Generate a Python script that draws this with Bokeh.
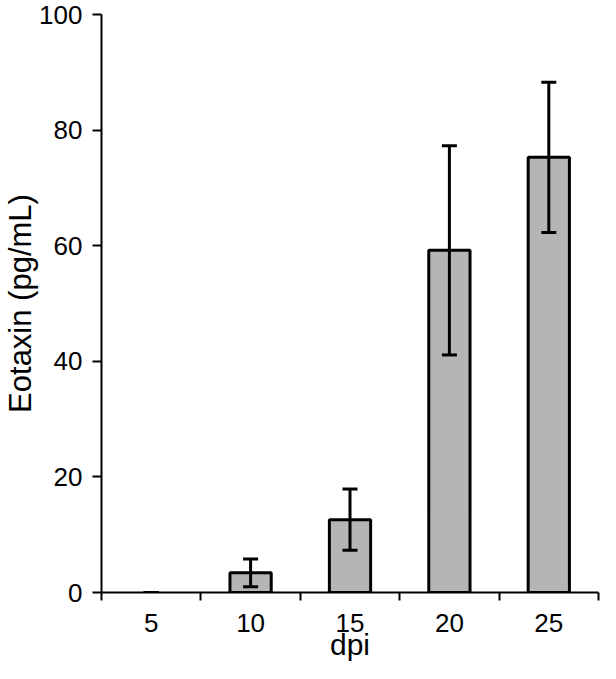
from bokeh.plotting import figure
from bokeh.models import ColumnDataSource, Whisker, FixedTicker, Range1d, TeeHead
from bokeh.embed import file_html
from bokeh.resources import INLINE

# ---- data ----
dpi = [5, 10, 15, 20, 25]
tick_labels = ["5", "10", "15", "20", "25"]
eotaxin_mean = [0.0, 3.4, 12.6, 59.2, 75.3]
eotaxin_sd = [0.0, 2.4, 5.3, 18.1, 13.0]
y_ticks = [0, 20, 40, 60, 80, 100]
x_title = "dpi"
y_title = "Eotaxin (pg/mL)"

upper = [m + s for m, s in zip(eotaxin_mean, eotaxin_sd)]
lower = [m - s for m, s in zip(eotaxin_mean, eotaxin_sd)]
bar_line_alpha = [1.0 if m > 0 else 0.0 for m in eotaxin_mean]
step = dpi[1] - dpi[0]
boundaries = [d - step / 2 for d in dpi] + [dpi[-1] + step / 2]

src = ColumnDataSource(dict(x=dpi, top=eotaxin_mean, upper=upper, lower=lower,
                            la=bar_line_alpha))

FONT = "Liberation Sans"

p = figure(width=600, height=663,
           x_range=Range1d(boundaries[0], boundaries[-1]),
           y_range=Range1d(y_ticks[0], y_ticks[-1]),
           output_backend="svg", toolbar_location=None,
           min_border_left=10, min_border_right=2,
           min_border_top=14, min_border_bottom=10)

p.vbar(x="x", top="top", bottom=0, width=step * 0.415, source=src,
       fill_color="#b5b5b5", line_color="black", line_width=3, line_alpha="la")

w = Whisker(base="x", upper="upper", lower="lower", source=src,
            line_color="black", line_width=3, level="overlay",
            upper_head=TeeHead(size=15, line_width=3, line_color="black"),
            lower_head=TeeHead(size=15, line_width=3, line_color="black"))
p.add_layout(w)

p.grid.visible = False
p.outline_line_color = None
p.background_fill_color = "white"

# x axis
xa = p.xaxis[0]
xa.ticker = FixedTicker(ticks=dpi, minor_ticks=boundaries)
xa.major_label_overrides = {d: t for d, t in zip(dpi, tick_labels)}
xa.major_tick_out = 0
xa.major_tick_in = 0
xa.minor_tick_out = 8
xa.minor_tick_in = 0
xa.minor_tick_line_width = 2
xa.minor_tick_line_color = "black"
xa.axis_line_width = 2
xa.axis_line_color = "black"
xa.major_label_standoff = 13
xa.major_label_text_font = FONT
xa.major_label_text_font_size = "26px"
xa.major_label_text_color = "black"
xa.axis_label = x_title
xa.axis_label_text_font = FONT
xa.axis_label_text_font_size = "30px"
xa.axis_label_text_font_style = "normal"
xa.axis_label_text_color = "black"
xa.axis_label_text_line_height = 0.9
xa.axis_label_standoff = -7

# y axis
ya = p.yaxis[0]
ya.ticker = FixedTicker(ticks=y_ticks, minor_ticks=[])
ya.major_tick_out = 9
ya.major_tick_in = 0
ya.major_tick_line_width = 2
ya.major_tick_line_color = "black"
ya.minor_tick_out = 0
ya.minor_tick_in = 0
ya.axis_line_width = 2
ya.axis_line_color = "black"
ya.major_label_standoff = 10
ya.major_label_text_font = FONT
ya.major_label_text_font_size = "26px"
ya.major_label_text_color = "black"
ya.axis_label = y_title
ya.axis_label_text_font = FONT
ya.axis_label_text_font_size = "31px"
ya.axis_label_text_font_style = "normal"
ya.axis_label_text_color = "black"
ya.axis_label_text_line_height = 0.9
ya.axis_label_standoff = -2

open("out.html", "w").write(file_html(p, INLINE))
